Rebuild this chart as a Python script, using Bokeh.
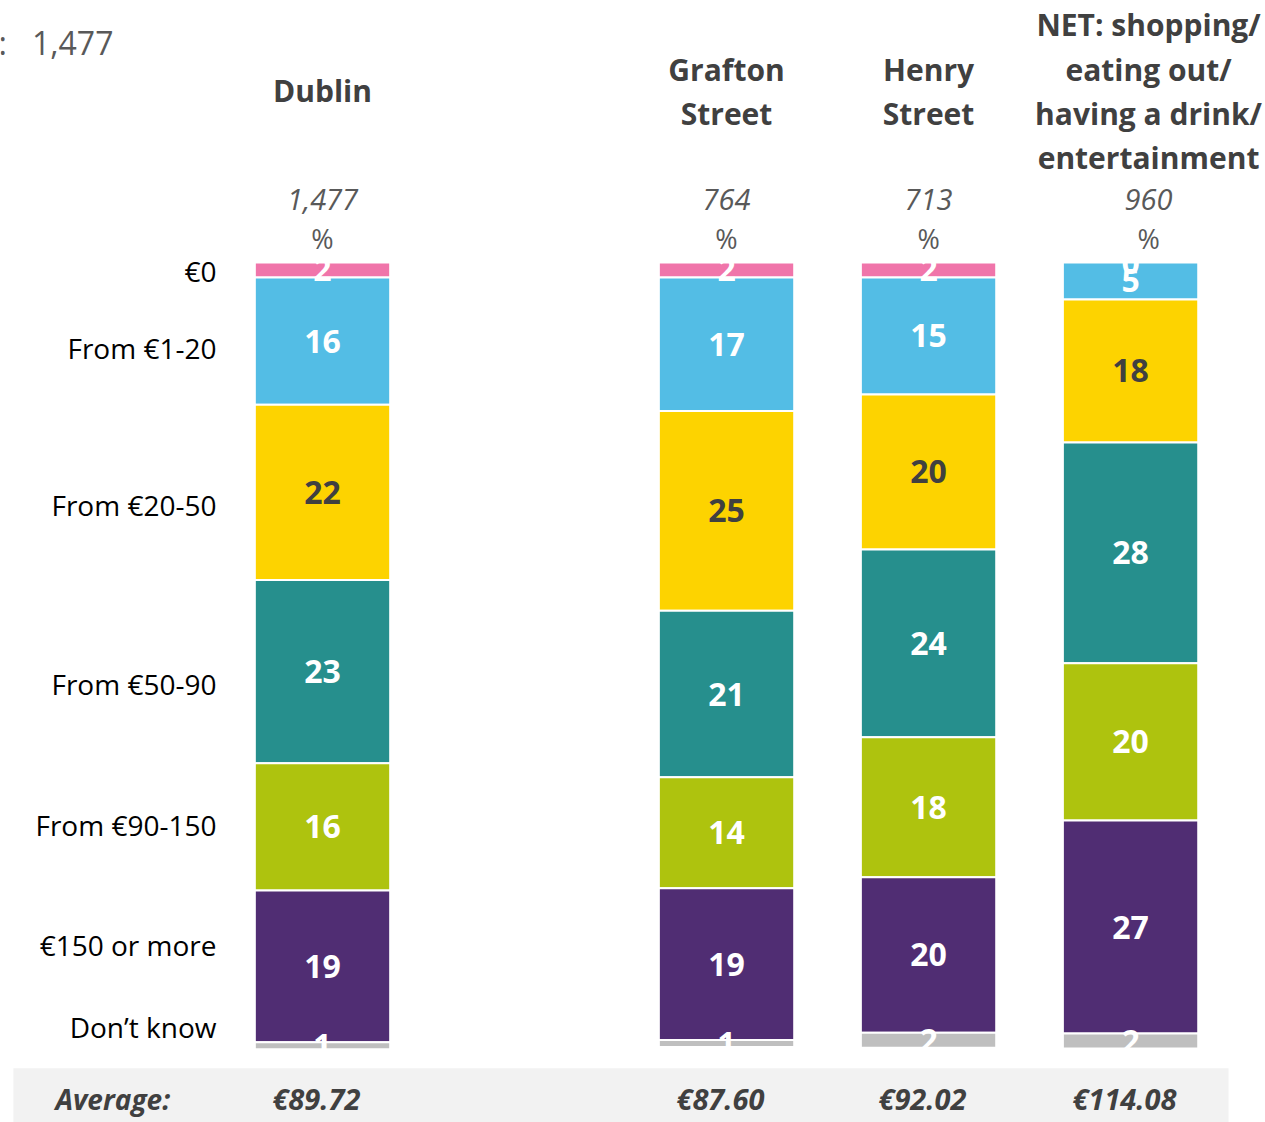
from bokeh.plotting import figure
from bokeh.models import Range1d, ColumnDataSource
from bokeh.core.properties import value
from bokeh.embed import file_html
from bokeh.resources import INLINE

# ---------------- data ----------------
columns = ["Dublin", "Grafton Street", "Henry Street", "NET"]
header_lines = [["Dublin"], ["Grafton", "Street"], ["Henry", "Street"],
                ["NET: shopping/", "eating out/", "having a drink/", "entertainment"]]
bases = ["1,477", "764", "713", "960"]
averages = ["€89.72", "€87.60", "€92.02", "€114.08"]
bands = ["€0", "From €1-20", "From €20-50", "From €50-90", "From €90-150", "€150 or more", "Don’t know"]

v_zero   = [1.9, 1.9, 1.9, 0.0]
v_1_20   = [16.2, 17.0, 14.9, 4.7]
v_20_50  = [22.3, 25.4, 19.7, 18.2]
v_50_90  = [23.3, 21.2, 23.9, 28.1]
v_90_150 = [16.2, 14.1, 17.8, 20.0]
v_150    = [19.3, 19.3, 19.8, 27.1]
v_dk     = [0.9, 0.9, 1.9, 1.9]

series = [v_zero, v_1_20, v_20_50, v_50_90, v_90_150, v_150, v_dk]
colors = ["#F075AA", "#53BDE5", "#FDD300", "#268F8D", "#AEC30E", "#502D73", "#BFBFBF"]
label_colors = ["white", "white", "#404040", "white", "white", "white", "white"]

# layout positions (slot units)
xpos = [0, 2, 3, 4]
header_x = [0, 2, 3, 4.089]
band_label_y = [1.1, 10.9, 30.8, 53.6, 71.5, 86.8, 97.3]

FONT = "Open Sans"

p = figure(width=1265, height=1122, output_backend="svg", toolbar_location=None,
           x_range=Range1d(-1.594, 4.668), y_range=Range1d(109.41, -33.33),
           x_axis_location=None, y_axis_location=None, min_border=0,
           outline_line_color=None, background_fill_color="white")
p.xgrid.visible = False
p.ygrid.visible = False

# average band background
p.quad(left=[-1.53], right=[4.485], top=[102.5], bottom=[111], fill_color="#F2F2F2", line_color=None)

# stacked bars
keys = [f"s{i}" for i in range(len(series))]
data = {"x": xpos}
for k, s in zip(keys, series):
    data[k] = s
src = ColumnDataSource(data)
p.vbar_stack(keys, x="x", width=0.67, source=src, color=colors,
             line_color="white", line_width=2)

# segment labels
cum = [0.0] * len(xpos)
for s, lc in zip(series, label_colors):
    ys = [c + v / 2 for c, v in zip(cum, s)]
    cum = [c + v for c, v in zip(cum, s)]
    p.text(x=xpos, y=ys, text=[f"{v:.0f}" for v in s], text_color=lc,
           text_font=value(FONT), text_font_style="bold", text_font_size="32px",
           text_align="center", text_baseline="middle")

# band labels (left)
p.text(x=[-0.525] * len(bands), y=band_label_y, text=bands, text_color="#000000",
       text_font=value(FONT), text_font_size="28px", text_align="right", text_baseline="middle")

# column headers
header_y = {1: [-21.9], 2: [-24.55, -18.96], 4: [-30.3, -24.55, -18.96, -13.36]}
for hx, lines in zip(header_x, header_lines):
    ys = header_y[len(lines)]
    p.text(x=[hx] * len(lines), y=ys, text=lines, text_color="#404040",
           text_font=value(FONT), text_font_style="bold", text_font_size="30px",
           text_align="center", text_baseline="middle")

# base sizes and %
p.text(x=header_x, y=[-8.0] * 4, text=bases, text_color="#595959",
       text_font=value(FONT), text_font_style="italic", text_font_size="29px",
       text_align="center", text_baseline="middle")
p.text(x=header_x, y=[-3.05] * 4, text=["%"] * 4, text_color="#595959",
       text_font=value(FONT), text_font_size="27px",
       text_align="center", text_baseline="middle")

# top-left base (cut at the left edge, as in the original)
p.text(x=[-1.035], y=[-28.0], text=["Base:\u00a0\u00a0\u00a01,477"], text_color="#595959",
       text_font=value(FONT), text_font_size="32px", text_align="right", text_baseline="middle")

# average row
p.text(x=[-1.322], y=[106.4], text=["Average:"], text_color="#404040",
       text_font=value(FONT), text_font_style="bold italic", text_font_size="28px",
       text_align="left", text_baseline="middle")
p.text(x=[x - 0.03 for x in xpos], y=[106.4] * 4, text=averages, text_color="#404040",
       text_font=value(FONT), text_font_style="bold italic", text_font_size="29px",
       text_align="center", text_baseline="middle")

open("out.html", "w").write(file_html(p, INLINE))
